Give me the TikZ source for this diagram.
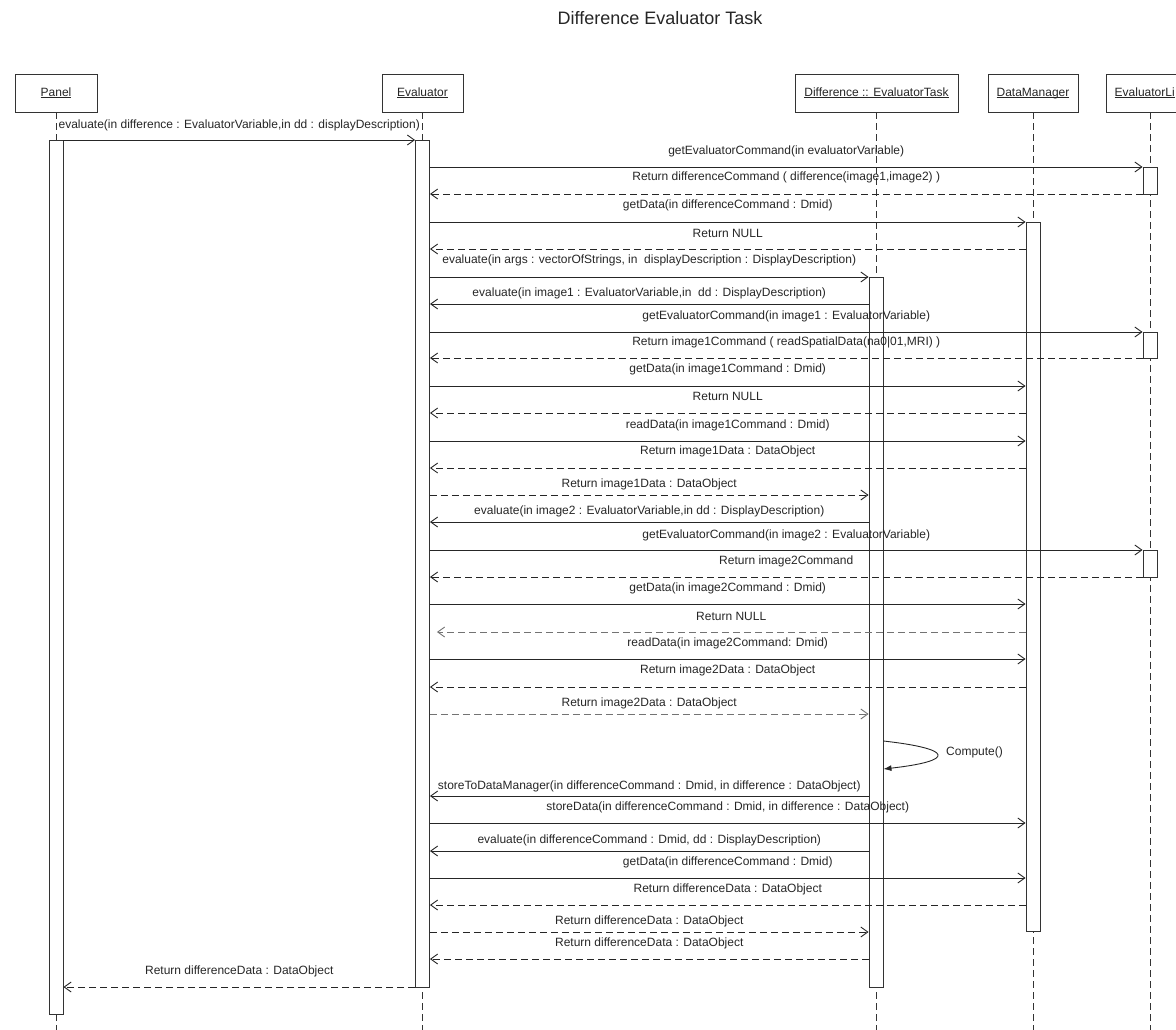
\documentclass[tikz,border=0pt]{standalone}
\usepackage{fontspec}
\setmainfont{Liberation Sans}
\usetikzlibrary{arrows.meta}

\newcommand\objname[1]{\underline{\vphantom{A}\smash{#1}}}

\tikzset{
  objbox/.style={draw=black!80, line width=0.9pt, fill=white, minimum height=38pt, inner sep=0pt, font=\fontsize{12}{14}\selectfont, text=black!85},
  lifeline/.style={draw=black!80, line width=0.9pt, dash pattern=on 7pt off 4pt},
  actbar/.style={draw=black!80, line width=0.9pt, fill=white, minimum width=14pt, inner sep=0pt},
  msgcall/.style={draw=black!85, line width=0.9pt, -{Straight Barb[length=7pt,width=10pt]}},
  msgret/.style={msgcall, dash pattern=on 7pt off 4pt},
  msgself/.style={draw=black!85, line width=0.9pt, -{Latex[length=8pt,width=6pt]}},
  msglbl/.style={font=\fontsize{12}{14}\selectfont, text=black!85, inner sep=0pt},
}

\begin{document}
\begin{tikzpicture}[x=1pt,y=-1pt]
			%%%%% START %%%%%
			\useasboundingbox (0,0) rectangle (1176,1030);
			\clip (0,0) rectangle (1176,1030);
			
			\node[font=\fontsize{18}{21}\selectfont, text=black!85] (title) at (660,18) {Difference Evaluator Task};
			
			% objects
			\node[objbox, minimum width=82pt] (panel) at (56,93) {\objname{Panel}};
			\node[objbox, minimum width=81pt] (eval) at (422.5,93) {\objname{Evaluator}};
			\node[objbox, minimum width=163pt] (task) at (876.5,93) {\objname{Difference :: EvaluatorTask}};
			\node[objbox, minimum width=90pt] (dm) at (1033,93) {\objname{DataManager}};
			\node[objbox, minimum width=88pt] (elist) at (1150,93) {};
			\node[msglbl, anchor=west] (elistname) at (1114.5,93) {\objname{EvaluatorLi}};
			
			% lifelines
			\draw[lifeline] (panel.south) -- (panel.south |- 0,1030);
			\draw[lifeline] (eval.south) -- (eval.south |- 0,1030);
			\draw[lifeline] (task.south) -- (task.south |- 0,1030);
			\draw[lifeline] (dm.south) -- (dm.south |- 0,1030);
			\draw[lifeline] (elist.south) -- (elist.south |- 0,1030);
			
			% activations
			\node[actbar, minimum height=874pt] (pbar) at (56,577) {};
			\node[actbar, minimum height=847pt] (ebar) at (422.5,563.5) {};
			\node[actbar, minimum height=710pt] (tbar) at (876,632) {};
			\node[actbar, minimum height=709pt] (dbar) at (1033,576.5) {};
			\node[actbar, minimum height=27pt] (lbar1) at (1150,180.5) {};
			\node[actbar, minimum height=26pt] (lbar2) at (1150,345) {};
			\node[actbar, minimum height=27pt] (lbar3) at (1150,563.5) {};
			
			% messages
			\draw[msgcall] (pbar.east |- 0,140) -- node[msglbl, yshift=15pt] {evaluate(in difference : EvaluatorVariable,in dd : displayDescription)} (ebar.west |- 0,140);
			\draw[msgcall] (ebar.east |- 0,167) -- node[msglbl, yshift=16pt] {getEvaluatorCommand(in evaluatorVariable)} (lbar1.west |- 0,167);
			\draw[msgret] (lbar1.west |- 0,194) -- node[msglbl, yshift=17pt] {Return differenceCommand ( difference(image1,image2) )} (ebar.east |- 0,194);
			\draw[msgcall] (ebar.east |- 0,222) -- node[msglbl, yshift=17pt] {getData(in differenceCommand : Dmid)} (dbar.west |- 0,222);
			\draw[msgret] (dbar.west |- 0,249) -- node[msglbl, yshift=16pt] {Return NULL} (ebar.east |- 0,249);
			\draw[msgcall] (ebar.east |- 0,277) -- node[msglbl, yshift=17pt] {evaluate(in args : vectorOfStrings, in\ \ displayDescription : DisplayDescription)} (tbar.west |- 0,277);
			\draw[msgcall] (tbar.west |- 0,304) -- node[msglbl, yshift=11pt] {evaluate(in image1 : EvaluatorVariable,in\ \ dd : DisplayDescription)} (ebar.east |- 0,304);
			\draw[msgcall] (ebar.east |- 0,332) -- node[msglbl, yshift=16pt] {getEvaluatorCommand(in image1 : EvaluatorVariable)} (lbar2.west |- 0,332);
			\draw[msgret] (lbar2.west |- 0,358) -- node[msglbl, yshift=16pt] {Return image1Command ( readSpatialData(na0|01,MRI) )} (ebar.east |- 0,358);
			\draw[msgcall] (ebar.east |- 0,386) -- node[msglbl, yshift=17pt] {getData(in image1Command : Dmid)} (dbar.west |- 0,386);
			\draw[msgret] (dbar.west |- 0,413) -- node[msglbl, yshift=17pt] {Return NULL} (ebar.east |- 0,413);
			\draw[msgcall] (ebar.east |- 0,441) -- node[msglbl, yshift=16pt] {readData(in image1Command : Dmid)} (dbar.west |- 0,441);
			\draw[msgret] (dbar.west |- 0,468) -- node[msglbl, yshift=17pt] {Return image1Data : DataObject} (ebar.east |- 0,468);
			\draw[msgret] (ebar.east |- 0,495) -- node[msglbl, yshift=11pt] {Return image1Data : DataObject} (tbar.west |- 0,495);
			\draw[msgcall] (tbar.west |- 0,522) -- node[msglbl, yshift=11pt] {evaluate(in image2 : EvaluatorVariable,in dd : DisplayDescription)} (ebar.east |- 0,522);
			\draw[msgcall] (ebar.east |- 0,550) -- node[msglbl, yshift=15pt] {getEvaluatorCommand(in image2 : EvaluatorVariable)} (lbar3.west |- 0,550);
			\draw[msgret] (lbar3.west |- 0,577) -- node[msglbl, yshift=16pt] {Return image2Command} (ebar.east |- 0,577);
			\draw[msgcall] (ebar.east |- 0,604) -- node[msglbl, yshift=16pt] {getData(in image2Command : Dmid)} (dbar.west |- 0,604);
			\draw[msgret, draw=black!55] (dbar.west |- 0,632) -- node[msglbl, yshift=16pt] {Return NULL} ([xshift=7pt]ebar.east |- 0,632);
			\draw[msgcall] (ebar.east |- 0,659) -- node[msglbl, yshift=16pt] {readData(in image2Command: Dmid)} (dbar.west |- 0,659);
			\draw[msgret] (dbar.west |- 0,687) -- node[msglbl, yshift=17pt] {Return image2Data : DataObject} (ebar.east |- 0,687);
			\draw[msgret, draw=black!55] (ebar.east |- 0,714) -- node[msglbl, yshift=11pt] {Return image2Data : DataObject} (tbar.west |- 0,714);
			
			% self call
			\draw[msgself] (tbar.east |- 0,741) .. controls (955,749) and (955,761) .. (tbar.east |- 0,769);
			\node[msglbl, anchor=west] (compute) at (946,752) {Compute()};
			
			\draw[msgcall] (tbar.west |- 0,796) -- node[msglbl, yshift=10pt] {storeToDataManager(in differenceCommand : Dmid, in difference : DataObject)} (ebar.east |- 0,796);
			\draw[msgcall] (ebar.east |- 0,823) -- node[msglbl, yshift=16pt] {storeData(in differenceCommand : Dmid, in difference : DataObject)} (dbar.west |- 0,823);
			\draw[msgcall] (tbar.west |- 0,851) -- node[msglbl, yshift=11pt] {evaluate(in differenceCommand : Dmid, dd : DisplayDescription)} (ebar.east |- 0,851);
			\draw[msgcall] (ebar.east |- 0,878) -- node[msglbl, yshift=16pt] {getData(in differenceCommand : Dmid)} (dbar.west |- 0,878);
			\draw[msgret] (dbar.west |- 0,905) -- node[msglbl, yshift=16pt] {Return differenceData : DataObject} (ebar.east |- 0,905);
			\draw[msgret] (ebar.east |- 0,932) -- node[msglbl, yshift=11pt] {Return differenceData : DataObject} (tbar.west |- 0,932);
			\draw[msgret] (tbar.west |- 0,959) -- node[msglbl, yshift=16pt] {Return differenceData : DataObject} (ebar.east |- 0,959);
			\draw[msgret] (ebar.west |- 0,987) -- node[msglbl, yshift=16pt] {Return differenceData : DataObject} (pbar.east |- 0,987);
			
			%%%%% END %%%%%
\end{tikzpicture}
\end{document}
